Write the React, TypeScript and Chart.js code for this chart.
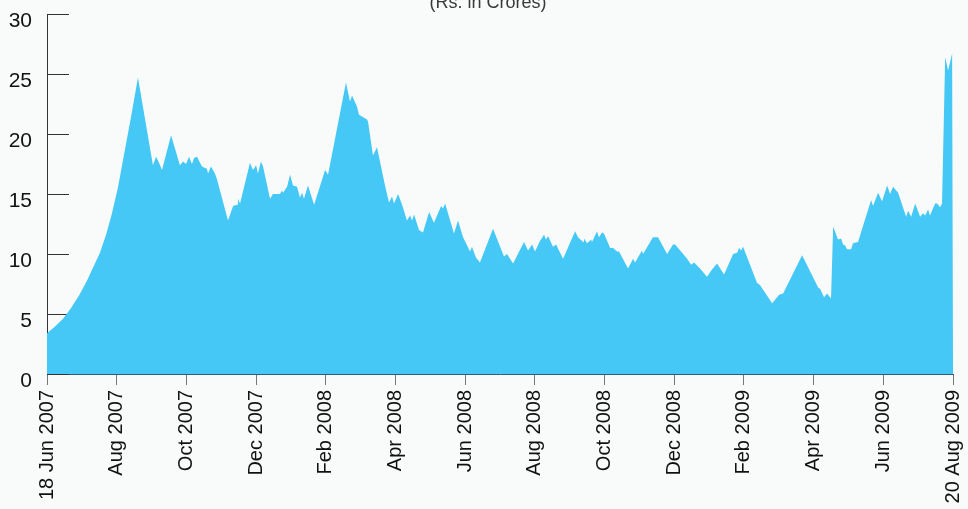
import React, { useEffect, useRef } from "react";
import { Chart, registerables } from "chart.js";

Chart.register(...registerables);

const TITLE = "(Rs. in Crores)";

const tickLabels = [
  "18 Jun 2007", "Aug 2007", "Oct 2007", "Dec 2007", "Feb 2008", "Apr 2008", "Jun 2008",
  "Aug 2008", "Oct 2008", "Dec 2008", "Feb 2009", "Apr 2009", "Jun 2009", "20 Aug 2009",
];

const yTicks = [0, 5, 10, 15, 20, 25, 30];

// trading-day index (40 per tick interval)
const tradingDay = [
  0, 4.6, 9.2, 13.8, 18.4, 23.0, 27.0, 30.4, 33.9, 37.3, 40.8, 44.2, 48.2, 52.2,
  60.8, 62.6, 64.3, 66.0, 71.2, 76.3, 78.1, 79.8, 81.5, 83.2, 84.4, 86.1, 87.8, 89.0, 90.1, 91.8, 92.4, 94.1, 96.4, 97.6,
  103.9, 106.8, 109.1, 109.6, 110.8, 116.5, 118.2, 120.0, 121.1, 122.8, 124.0,
  128.0, 129.7, 133.7, 134.9, 135.5, 137.8, 139.5, 141.2, 143.5, 145.2, 146.4, 147.5, 149.8, 153.3, 157.9, 159.6, 161.3,
  171.6, 173.9, 175.1, 177.9, 179.1, 183.7, 184.3, 187.1, 189.4, 194.0, 196.3, 198.0, 199.2, 201.5, 203.8,
  206.6, 208.4, 209.5, 210.7, 213.5, 215.8, 219.3, 222.1, 226.2, 227.3, 228.5, 233.6, 235.9, 238.8,
  242.8, 243.9, 246.2, 248.5, 256.0, 262.3, 264.0, 267.5, 273.8, 276.1, 278.4, 280.1, 283.0, 285.3, 286.4, 287.6,
  290.4, 292.2, 296.2, 303.1, 304.8, 307.7, 308.2, 310.0, 312.3, 312.8, 315.7, 316.8, 318.6, 319.7,
  323.2, 324.9, 327.2, 328.3, 333.5, 336.4, 337.5, 341.5, 342.1, 347.8, 350.7, 355.9, 359.3, 360.5,
  367.4, 367.9, 369.7, 371.4, 374.8, 378.8, 381.7, 384.6, 388.6, 393.8, 396.1, 397.2, 398.4, 399.5,
  407.5, 409.3, 416.2, 420.2, 422.5, 433.4, 442.6, 443.7, 446.0, 447.7, 450.0, 451.2, 454.0, 455.8, 456.9, 458.1, 459.2,
  461.5, 462.6, 465.5, 473.0, 474.1, 477.0, 479.3, 482.2, 483.9, 485.6, 488.5, 493.1, 494.2, 496.0, 498.3,
  501.1, 502.8, 504.0, 505.7, 506.8, 509.7, 510.9, 512.6, 513.7, 515.5, 517.2, 519.5, 520,
];

const crores = [
  3.4, 3.95, 4.6, 5.5, 6.55, 7.8, 9.05, 10.1, 11.6, 13.4, 15.6, 18.3, 21.4, 24.7,
  17.4, 18.1, 17.6, 17.0, 19.9, 17.4, 17.7, 17.5, 18.1, 17.5, 18.0, 18.1, 17.6, 17.3, 17.2, 17.1, 16.7, 17.3, 16.7, 16.2,
  12.8, 14.0, 14.1, 14.6, 14.2, 17.6, 17.0, 17.4, 16.7, 17.7, 17.3,
  14.6, 15.0, 15.0, 15.3, 15.1, 15.6, 16.6, 15.7, 15.6, 14.7, 15.1, 14.6, 15.7, 14.1, 16.2, 17.0, 16.6,
  24.3, 22.7, 23.2, 22.3, 21.6, 21.2, 21.0, 18.2, 18.9, 15.7, 14.3, 14.8, 14.2, 15.0, 14.1,
  12.8, 13.2, 12.8, 13.3, 12.0, 11.8, 13.5, 12.6, 14.0, 13.8, 14.2, 11.7, 12.8, 11.4,
  10.2, 10.6, 9.7, 9.3, 12.1, 9.8, 10.0, 9.2, 11.0, 10.3, 10.8, 10.2, 11.1, 11.6, 11.2, 11.5,
  10.6, 10.8, 9.6, 11.9, 11.4, 11.0, 11.3, 10.9, 11.2, 11.0, 11.9, 11.4, 11.8, 11.7,
  10.5, 10.5, 10.2, 10.2, 8.8, 9.6, 9.3, 10.3, 10.0, 11.4, 11.4, 10.0, 10.8, 10.8,
  9.6, 9.6, 9.1, 9.3, 8.8, 8.1, 8.7, 9.2, 8.3, 10.0, 10.1, 10.5, 10.3, 10.6,
  7.6, 7.4, 5.9, 6.6, 6.7, 9.9, 7.2, 7.1, 6.4, 6.7, 6.3, 12.3, 11.2, 11.3, 10.8, 10.7, 10.4,
  10.4, 10.9, 11.0, 14.5, 14.0, 15.1, 14.4, 15.7, 15.0, 15.6, 15.1, 13.1, 13.6, 13.1, 14.2,
  13.1, 13.4, 13.2, 13.7, 13.2, 14.2, 14.2, 13.9, 14.2, 26.4, 25.3, 26.7, 0.7,
];

const FONT = "'Liberation Sans', Arial, Helvetica, sans-serif";

const innerTicksPlugin = {
  id: "innerTicks",
  beforeDatasetsDraw(chart: any) {
    const { ctx, chartArea, scales } = chart;
    const y = scales.y;
    ctx.save();
    ctx.strokeStyle = "#333333";
    ctx.lineWidth = 1;
    yTicks.forEach((v) => {
      const py = Math.round(y.getPixelForValue(v)) + 0.5;
      ctx.beginPath();
      ctx.moveTo(chartArea.left, py);
      ctx.lineTo(chartArea.left + 22, py);
      ctx.stroke();
    });
    ctx.restore();
  },
};

const titlePlugin = {
  id: "topTitle",
  afterDraw(chart: any) {
    const { ctx } = chart;
    ctx.save();
    ctx.font = `18px ${FONT}`;
    ctx.fillStyle = "#3a3a3a";
    ctx.textAlign = "center";
    ctx.textBaseline = "alphabetic";
    ctx.fillText(TITLE, 488, 8);
    ctx.restore();
  },
};

export default function App() {
  const canvasRef = useRef<HTMLCanvasElement | null>(null);

  useEffect(() => {
    if (!canvasRef.current) return;
    const points = tradingDay.map((d, i) => ({ x: d, y: crores[i] }));
    const chart = new Chart(canvasRef.current, {
      type: "line",
      data: {
        datasets: [
          {
            data: points,
            fill: "origin",
            backgroundColor: "#45C8F5",
            borderWidth: 0,
            borderColor: "#45C8F5",
            pointRadius: 0,
            tension: 0,
          },
        ],
      },
      options: {
        animation: false,
        responsive: true,
        maintainAspectRatio: false,
        layout: { padding: { top: 14, right: 15, left: 0, bottom: 0 } },
        plugins: {
          legend: { display: false },
          tooltip: { enabled: false },
          title: { display: false },
        },
        scales: {
          x: {
            type: "linear",
            min: 0,
            max: 520,
            afterBuildTicks: (scale: any) => {
              scale.ticks = tickLabels.map((_, i) => ({ value: i * 40 }));
            },
            afterFit: (scale: any) => {
              scale.height = 135;
              scale.paddingLeft = 0;
              scale.paddingRight = 0;
            },
            ticks: {
              autoSkip: false,
              maxRotation: 90,
              minRotation: 90,
              padding: 5,
              color: "#111111",
              font: { family: FONT, size: 20 },
              callback: (v: any) => tickLabels[Math.round(Number(v) / 40)] ?? "",
            },
            grid: {
              drawOnChartArea: false,
              drawTicks: true,
              tickLength: 11,
              color: "#777777",
            },
            border: { display: true, color: "#2b5d78", width: 1 },
          },
          y: {
            type: "linear",
            min: 0,
            max: 30,
            afterBuildTicks: (scale: any) => {
              scale.ticks = yTicks.map((v) => ({ value: v }));
            },
            afterFit: (scale: any) => {
              scale.width = 47;
              scale.paddingTop = 0;
              scale.paddingBottom = 0;
            },
            ticks: {
              padding: 15,
              labelOffset: 7,
              color: "#111111",
              font: { family: FONT, size: 21 },
            },
            grid: { drawOnChartArea: false, drawTicks: false },
            border: { display: true, color: "#333333", width: 1 },
          },
        },
      },
      plugins: [innerTicksPlugin, titlePlugin],
    });
    return () => chart.destroy();
  }, []);

  return (
    <div
      style={{
        position: "fixed",
        left: 0,
        top: 0,
        width: 968,
        height: 509,
        background: "#F9FBFB",
      }}
    >
      <canvas ref={canvasRef} />
    </div>
  );
}
